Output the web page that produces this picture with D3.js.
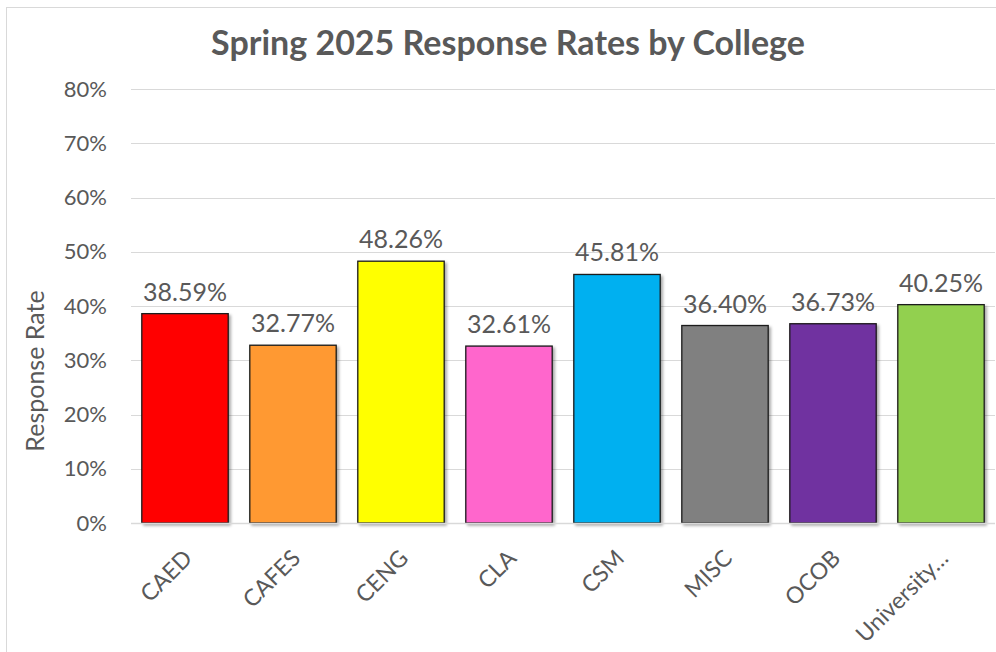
<!DOCTYPE html>
<html>
<head>
<meta charset="utf-8">
<script src="https://cdn.jsdelivr.net/npm/d3@7"></script>
<style>
  html, body { margin: 0; padding: 0; background: #fff; }
  svg { display: block; }
  text { font-family: Lato, "Open Sans", sans-serif; fill: #595959; }
</style>
</head>
<body>
<svg id="chart" width="996" height="652"></svg>
<script>
const categories = ["CAED", "CAFES", "CENG", "CLA", "CSM", "MISC", "OCOB", "University…"];
const values = [38.59, 32.77, 48.26, 32.61, 45.81, 36.40, 36.73, 40.25];
const colors = ["#ff0000", "#ff9933", "#ffff00", "#ff66cc", "#00b0f0", "#808080", "#7030a0", "#92d050"];
const yTicks = [0, 10, 20, 30, 40, 50, 60, 70, 80];
const title = "Spring 2025 Response Rates by College";
const yAxisTitle = "Response Rate";

const svg = d3.select("#chart");
const W = 996, H = 652;
const margin = { left: 131, right: 1, top: 89, bottom: 129 };

// outer chart border
svg.append("rect")
  .attr("x", 6.5).attr("y", 7.5)
  .attr("width", W + 20).attr("height", H + 20)
  .attr("fill", "#fff").attr("stroke", "#d9d9d9").attr("stroke-width", 1);

const defs = svg.append("defs");
const f = defs.append("filter").attr("id", "shadow")
  .attr("x", "-10%").attr("y", "-10%").attr("width", "130%").attr("height", "130%");
f.append("feDropShadow").attr("dx", 2).attr("dy", 2).attr("stdDeviation", 1.8)
  .attr("flood-color", "#000").attr("flood-opacity", 0.35);

const x = d3.scaleBand().domain(categories)
  .range([margin.left, W - margin.right]).paddingInner(0.2).paddingOuter(0.1);
const y = d3.scaleLinear().domain([0, 80]).range([H - margin.bottom, margin.top]);

// gridlines
svg.append("g").selectAll("line").data(yTicks).join("line")
  .attr("x1", margin.left).attr("x2", W - margin.right)
  .attr("y1", d => Math.round(y(d)) + 0.5).attr("y2", d => Math.round(y(d)) + 0.5)
  .attr("stroke", "#d9d9d9").attr("stroke-width", 1);

// y axis labels
const yAxis = d3.axisLeft(y).tickValues(yTicks).tickFormat(d => d + "%").tickSize(0).tickPadding(24);
const gy = svg.append("g").attr("transform", `translate(${margin.left},0)`).call(yAxis);
gy.select(".domain").remove();
gy.selectAll("text").style("font-size", "22px").style("fill", "#595959")
  .style("font-family", "Lato, 'Open Sans', sans-serif");

// bars
svg.append("g").selectAll("rect").data(categories).join("rect")
  .attr("x", d => x(d)).attr("width", x.bandwidth())
  .attr("y", (d, i) => y(values[i]))
  .attr("height", (d, i) => y(0) - y(values[i]))
  .attr("fill", (d, i) => colors[i])
  .attr("stroke", "#1a1a1a").attr("stroke-width", 1.3)
  .attr("filter", "url(#shadow)");

// baseline
svg.append("line")
  .attr("x1", margin.left).attr("x2", W - margin.right)
  .attr("y1", Math.round(y(0)) + 0.5).attr("y2", Math.round(y(0)) + 0.5)
  .attr("stroke", "#d9d9d9").attr("stroke-width", 1.5);

// data labels
svg.append("g").selectAll("text").data(categories).join("text")
  .attr("x", d => x(d) + x.bandwidth() / 2)
  .attr("y", (d, i) => y(values[i]) - 13)
  .attr("text-anchor", "middle")
  .style("font-size", "25px")
  .text((d, i) => values[i].toFixed(2) + "%");

// x axis labels (rotated)
const xAxis = d3.axisBottom(x).tickSize(0).tickPadding(0);
const gx = svg.append("g").attr("transform", `translate(0,${y(0)})`).call(xAxis);
gx.select(".domain").remove();
gx.selectAll("text")
  .style("font-size", "23px").style("fill", "#595959")
  .style("font-family", "Lato, 'Open Sans', sans-serif")
  .attr("text-anchor", "end")
  .attr("dy", "0.35em")
  .attr("transform", "translate(3,31) rotate(-45)");

// title
svg.append("text")
  .attr("x", 508).attr("y", 55)
  .attr("text-anchor", "middle")
  .style("font-size", "34px").style("font-weight", "bold")
  .text(title);

// y axis title
svg.append("text")
  .attr("transform", `translate(44,371) rotate(-90)`)
  .attr("text-anchor", "middle")
  .style("font-size", "25px")
  .text(yAxisTitle);
</script>
</body>
</html>
